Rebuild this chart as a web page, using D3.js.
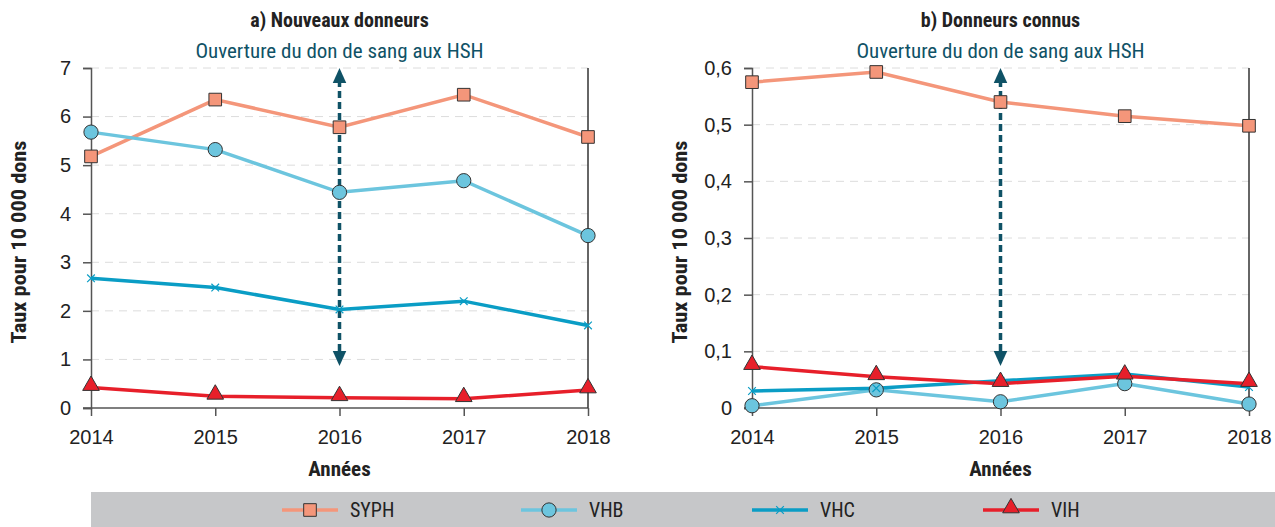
<!DOCTYPE html>
<html>
<meta charset="utf-8">
<style>
body { margin: 0; background: #fff; }
svg { display: block; font-family: "Liberation Sans Narrow", "Roboto Condensed", Roboto, sans-serif; }
.grid line { stroke: #dcdcdc; stroke-dasharray: 8 6; stroke-width: 1; }
.axis path, .axis line { stroke: #555; stroke-width: 1.5; }
.axis text { font-size: 20px; fill: #222; }
</style>
<body>
<svg width="1275" height="527"></svg>
<script src="https://cdn.jsdelivr.net/npm/d3@7"></script>
<script>

var years = [2014, 2015, 2016, 2017, 2018];
var series = ["SYPH", "VHB", "VHC", "VIH"];

// a) Nouveaux donneurs
var nouveauxSYPH = [5.18, 6.35, 5.78, 6.45, 5.58];
var nouveauxVHB  = [5.68, 5.32, 4.44, 4.68, 3.55];
var nouveauxVHC  = [2.67, 2.48, 2.03, 2.20, 1.70];
var nouveauxVIH  = [0.42, 0.24, 0.21, 0.19, 0.37];

// b) Donneurs connus
var connusSYPH = [0.575, 0.593, 0.540, 0.515, 0.498];
var connusVHB  = [0.004, 0.032, 0.011, 0.043, 0.007];
var connusVHC  = [0.030, 0.035, 0.048, 0.060, 0.037];
var connusVIH  = [0.073, 0.055, 0.043, 0.056, 0.043];

var yTicksA = [0, 1, 2, 3, 4, 5, 6, 7];
var yTicksB = [0, 0.1, 0.2, 0.3, 0.4, 0.5, 0.6];
var eventYear = 2016;

var colors = { SYPH: "#f4967a", VHB: "#6cc5de", VHC: "#0a9dc5", VIH: "#e71f2a" };
var annColor = "#0f5266";

var svg = d3.select("svg");

var defs = svg.append("defs");
defs.append("marker")
    .attr("id", "arrow")
    .attr("viewBox", "0 0 10 10")
    .attr("refX", 2).attr("refY", 5)
    .attr("markerWidth", 15).attr("markerHeight", 15)
    .attr("markerUnits", "userSpaceOnUse")
    .attr("orient", "auto-start-reverse")
  .append("path")
    .attr("d", "M0,0.5 L10,5 L0,9.5 Z")
    .attr("fill", annColor);

function symbolFor(name) {
  if (name == "SYPH") return d3.symbol().type(d3.symbolSquare).size(160)();
  if (name == "VHB") return d3.symbol().type(d3.symbolCircle).size(160)();
  if (name == "VHC") return d3.symbol().type(d3.symbolX).size(40)();
  return d3.symbol().type(d3.symbolTriangle).size(120)();
}

function drawMarker(g, name) {
  if (name == "VHC") {
    g.append("path").attr("d", symbolFor(name))
      .attr("fill", "none").attr("stroke", colors[name]).attr("stroke-width", 1.2);
  } else {
    g.append("path").attr("d", symbolFor(name))
      .attr("transform", name == "VIH" ? "translate(0,-2)" : null)
      .attr("fill", colors[name]).attr("stroke", "#333").attr("stroke-width", 1);
  }
}

function drawPanel(left, title, data, yMax, ticks, fmt) {
  var top = 68, height = 340, width = 497;
  var g = svg.append("g").attr("transform", "translate(" + left + "," + top + ")");

  var x = d3.scalePoint().domain(years).range([0, width]);
  var y = d3.scaleLinear().domain([0, yMax]).range([height, 0]);

  g.append("g").attr("class", "grid")
    .selectAll("line").data(ticks.slice(1)).enter().append("line")
      .attr("x1", 0).attr("x2", width)
      .attr("y1", function(d) { return y(d); })
      .attr("y2", function(d) { return y(d); });

  g.append("g").attr("class", "axis")
    .call(d3.axisLeft(y).tickValues(ticks).tickSize(8).tickPadding(12).tickFormat(fmt));

  g.append("g").attr("class", "axis")
    .attr("transform", "translate(0," + height + ")")
    .call(d3.axisBottom(x).tickSize(8).tickPadding(14).tickSizeOuter(0))
    .select(".domain").attr("d", "M-8,0H" + width);

  g.append("line")
    .attr("x1", width).attr("x2", width)
    .attr("y1", 0).attr("y2", height)
    .attr("stroke", "#333").attr("stroke-width", 1.5);

  // titles
  g.append("text")
    .attr("x", width / 2).attr("y", -41)
    .attr("text-anchor", "middle")
    .attr("font-weight", "bold").attr("font-size", 20).attr("fill", "#222")
    .text(title);

  g.append("text")
    .attr("x", width / 2).attr("y", -10)
    .attr("text-anchor", "middle")
    .attr("font-size", 21).attr("fill", annColor)
    .text("Ouverture du don de sang aux HSH");

  g.append("text")
    .attr("x", width / 2).attr("y", height + 68)
    .attr("text-anchor", "middle")
    .attr("font-weight", "bold").attr("font-size", 21).attr("fill", "#222")
    .text("Années");

  g.append("text")
    .attr("transform", "translate(-65," + (height / 2 + 4) + ") rotate(-90)")
    .attr("text-anchor", "middle")
    .attr("font-weight", "bold").attr("font-size", 21).attr("fill", "#222")
    .attr("textLength", 203).attr("lengthAdjust", "spacingAndGlyphs")
    .text("Taux pour 10 000 dons");

  // series lines
  var line = d3.line()
    .x(function(d, i) { return x(years[i]); })
    .y(function(d) { return y(d); });

  series.forEach(function(name) {
    g.append("path")
      .datum(data[name])
      .attr("fill", "none")
      .attr("stroke", colors[name])
      .attr("stroke-width", 3.5)
      .attr("d", line);
  });

  // event arrow: from the top of the plot down to about 1/8 of its height
  g.append("line")
    .attr("x1", x(eventYear)).attr("x2", x(eventYear))
    .attr("y1", y(yMax) + 12).attr("y2", height - 54)
    .attr("stroke", annColor).attr("stroke-width", 3.5)
    .attr("stroke-dasharray", "7 4")
    .attr("marker-start", "url(#arrow)")
    .attr("marker-end", "url(#arrow)");

  series.forEach(function(name) {
    data[name].forEach(function(v, i) {
      var m = g.append("g").attr("transform", "translate(" + x(years[i]) + "," + y(v) + ")");
      drawMarker(m, name);
    });
  });
}

drawPanel(91, "a) Nouveaux donneurs",
  { SYPH: nouveauxSYPH, VHB: nouveauxVHB, VHC: nouveauxVHC, VIH: nouveauxVIH },
  7, yTicksA, d3.format("d"));

drawPanel(752, "b) Donneurs connus",
  { SYPH: connusSYPH, VHB: connusVHB, VHC: connusVHC, VIH: connusVIH },
  0.6, yTicksB, function(d) { return d == 0 ? "0" : d3.format(".1f")(d).replace(".", ","); });

// legend
var legend = svg.append("g");
legend.append("rect")
  .attr("x", 91).attr("y", 492).attr("width", 1184).attr("height", 35)
  .attr("fill", "#c6c7c9");

var legendX = [282, 521, 752, 983];
series.forEach(function(name, i) {
  var lg = legend.append("g").attr("transform", "translate(" + legendX[i] + ",510)");
  lg.append("line").attr("x1", 0).attr("x2", 56)
    .attr("stroke", colors[name]).attr("stroke-width", 3.5);
  var m = lg.append("g").attr("transform", "translate(28,0)");
  drawMarker(m, name);
  lg.append("text").attr("x", 68).attr("y", 7)
    .attr("font-size", 20).attr("fill", "#222")
    .text(name);
});

</script>
</body>
</html>
